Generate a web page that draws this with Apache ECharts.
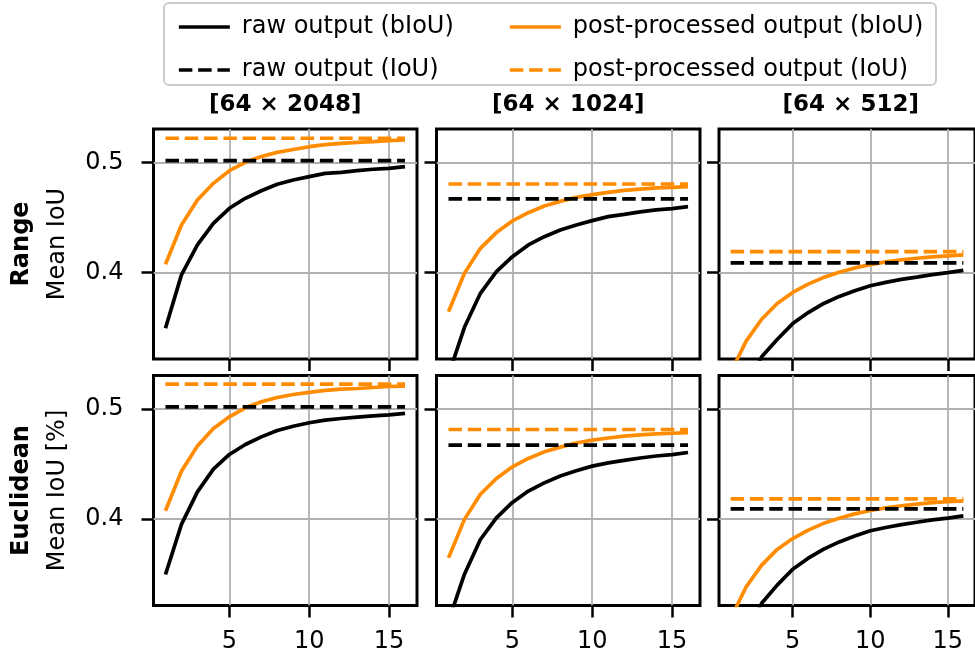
<!DOCTYPE html>
<html>
<head>
<meta charset="utf-8">
<script src="https://cdn.jsdelivr.net/npm/echarts@6/dist/echarts.min.js"></script>
<style>
  html, body { margin: 0; padding: 0; background: #ffffff; }
  #chart { width: 975px; height: 659px; }
</style>
</head>
<body>
<div id="chart"></div>
<script>
// ---- data -------------------------------------------------------------
const steps = [1, 2, 3, 4, 5, 6, 7, 8, 9, 10, 11, 12, 13, 14, 15, 16];
const resolutions = ['[64 × 2048]', '[64 × 1024]', '[64 × 512]'];
const distanceNames = ['Range', 'Euclidean'];
const yAxisTitles = ['Mean IoU', 'Mean IoU [%]'];
const xTickValues = [5, 10, 15];
const yTickValues = [0.4, 0.5];
const seriesNames = [
  'raw output (bIoU)', 'raw output (IoU)',
  'post-processed output (bIoU)', 'post-processed output (IoU)'
];

// Range distance: bIoU curves per resolution
const rangeRaw2048 = [0.3494, 0.3980, 0.4252, 0.4448, 0.4585, 0.4676, 0.4745, 0.4803, 0.4842, 0.4873, 0.4903, 0.4912, 0.4927, 0.4940, 0.4948, 0.4964];
const rangePost2048 = [0.4076, 0.4433, 0.4660, 0.4812, 0.4927, 0.5003, 0.5055, 0.5094, 0.5120, 0.5145, 0.5164, 0.5176, 0.5185, 0.5192, 0.5200, 0.5206];
const rangeRaw1024 = [0.3070, 0.3503, 0.3812, 0.4009, 0.4145, 0.4252, 0.4327, 0.4388, 0.4433, 0.4473, 0.4509, 0.4530, 0.4552, 0.4570, 0.4582, 0.4600];
const rangePost1024 = [0.3645, 0.3994, 0.4221, 0.4364, 0.4470, 0.4545, 0.4606, 0.4648, 0.4685, 0.4709, 0.4730, 0.4748, 0.4760, 0.4770, 0.4776, 0.4782];
const rangeRaw512 = [0.2620, 0.2950, 0.3235, 0.3393, 0.3537, 0.3637, 0.3720, 0.3784, 0.3835, 0.3881, 0.3912, 0.3939, 0.3960, 0.3982, 0.4000, 0.4021];
const rangePost512 = [0.3090, 0.3378, 0.3576, 0.3720, 0.3820, 0.3896, 0.3957, 0.4003, 0.4043, 0.4073, 0.4098, 0.4116, 0.4131, 0.4143, 0.4152, 0.4162];
// Range distance: IoU per resolution
const rangeRawIoU = [0.5018, 0.4670, 0.4088];
const rangePostIoU = [0.5222, 0.4806, 0.4192];

// Euclidean distance: bIoU curves per resolution
const euclRaw2048 = [0.3497, 0.3952, 0.4248, 0.4455, 0.4588, 0.4679, 0.4748, 0.4806, 0.4845, 0.4876, 0.4900, 0.4915, 0.4927, 0.4939, 0.4948, 0.4961];
const euclPost2048 = [0.4076, 0.4436, 0.4664, 0.4824, 0.4930, 0.5012, 0.5067, 0.5106, 0.5133, 0.5152, 0.5170, 0.5182, 0.5188, 0.5197, 0.5206, 0.5209];
const euclRaw1024 = [0.3070, 0.3500, 0.3815, 0.4012, 0.4152, 0.4255, 0.4330, 0.4392, 0.4440, 0.4482, 0.4512, 0.4535, 0.4556, 0.4574, 0.4586, 0.4606];
const euclPost1024 = [0.3648, 0.3998, 0.4226, 0.4370, 0.4476, 0.4552, 0.4612, 0.4655, 0.4692, 0.4718, 0.4738, 0.4755, 0.4766, 0.4775, 0.4781, 0.4787];
const euclRaw512 = [0.2620, 0.2950, 0.3235, 0.3400, 0.3545, 0.3645, 0.3728, 0.3793, 0.3846, 0.3894, 0.3924, 0.3950, 0.3972, 0.3993, 0.4010, 0.4030];
const euclPost512 = [0.3095, 0.3385, 0.3582, 0.3725, 0.3824, 0.3900, 0.3962, 0.4008, 0.4048, 0.4079, 0.4103, 0.4122, 0.4137, 0.4150, 0.4160, 0.4167];
// Euclidean distance: IoU per resolution
const euclRawIoU = [0.5021, 0.4673, 0.4094];
const euclPostIoU = [0.5227, 0.4815, 0.4185];

// ---- layout -------------------------------------------------------------
const FONT = 'DejaVu Sans';
const ORANGE = '#ff8c00';
const colLeft = [153.5, 436.5, 719];
const rowTop = [129, 375.5];
const panelW = 263.5;
const panelH = 230;
const xMin = 0.25, xMax = 16.75;
const yMin = 0.3215, yMax = 0.5306;
const LINE_W = 3.7;
const DASH = [13.5, 5.8];

const panels = [
  [
    { raw: rangeRaw2048, post: rangePost2048 },
    { raw: rangeRaw1024, post: rangePost1024 },
    { raw: rangeRaw512, post: rangePost512 }
  ],
  [
    { raw: euclRaw2048, post: euclPost2048 },
    { raw: euclRaw1024, post: euclPost1024 },
    { raw: euclRaw512, post: euclPost512 }
  ]
];
const rawIoU = [rangeRawIoU, euclRawIoU];
const postIoU = [rangePostIoU, euclPostIoU];

const pairs = (ys) => steps.map((s, i) => [s, ys[i]]);
const flat = (v) => [[steps[0], v], [steps[steps.length - 1], v]];

const grids = [], xAxes = [], yAxes = [], series = [];
const tickStyle = { color: '#000', width: 2.5 };
const gridLineStyle = { color: '#b0b0b0', width: 1.8 };

for (let r = 0; r < 2; r++) {
  for (let c = 0; c < 3; c++) {
    const idx = r * 3 + c;
    grids.push({
      left: colLeft[c], top: rowTop[r], width: panelW, height: panelH,
      show: true, borderColor: '#000', borderWidth: 3, backgroundColor: 'transparent'
    });
    xAxes.push({
      gridIndex: idx, type: 'value', min: xMin, max: xMax,
      axisLine: { show: false },
      axisTick: { show: true, customValues: xTickValues, length: 12, lineStyle: tickStyle },
      axisLabel: {
        show: r === 1, customValues: xTickValues, margin: 24,
        fontSize: 24, color: '#000', fontFamily: FONT
      },
      splitLine: { show: true, lineStyle: gridLineStyle }
    });
    const yAxis = {
      gridIndex: idx, type: 'value', min: yMin, max: yMax,
      axisLine: { show: false },
      axisTick: { show: true, customValues: yTickValues, length: 12, lineStyle: tickStyle },
      axisLabel: {
        show: c === 0, customValues: yTickValues, margin: 30,
        fontSize: 24, color: '#000', fontFamily: FONT,
        formatter: (v) => v.toFixed(1)
      },
      splitLine: { show: true, lineStyle: gridLineStyle }
    };
    if (c === 0) {
      yAxis.name = '{b|' + distanceNames[r] + '}\n{n|' + yAxisTitles[r] + '}';
      yAxis.nameLocation = 'middle';
      yAxis.nameRotate = 90;
      yAxis.nameGap = 78;
      yAxis.nameTextStyle = {
        color: '#000', fontFamily: FONT,
        rich: {
          b: { fontSize: 24, fontWeight: 'bold', fontFamily: FONT, color: '#000', lineHeight: 36 },
          n: { fontSize: 24, fontFamily: FONT, color: '#000', lineHeight: 36 }
        }
      };
    }
    yAxes.push(yAxis);

    const p = panels[r][c];
    const common = { type: 'line', xAxisIndex: idx, yAxisIndex: idx, symbol: 'none', animation: false, silent: true };
    series.push(Object.assign({}, common, {
      name: seriesNames[2], data: pairs(p.post), z: 2,
      lineStyle: { color: ORANGE, width: LINE_W }, itemStyle: { color: ORANGE }
    }));
    series.push(Object.assign({}, common, {
      name: seriesNames[3], data: flat(postIoU[r][c]), z: 2,
      lineStyle: { color: ORANGE, width: LINE_W, type: DASH }, itemStyle: { color: ORANGE }
    }));
    series.push(Object.assign({}, common, {
      name: seriesNames[0], data: pairs(p.raw), z: 3,
      lineStyle: { color: '#000', width: LINE_W }, itemStyle: { color: '#000' }
    }));
    series.push(Object.assign({}, common, {
      name: seriesNames[1], data: flat(rawIoU[r][c]), z: 3,
      lineStyle: { color: '#000', width: LINE_W, type: DASH }, itemStyle: { color: '#000' }
    }));
  }
}

const legendBase = {
  orient: 'vertical', top: 8, itemWidth: 51, itemHeight: 14, itemGap: 15,
  selectedMode: false,
  textStyle: { fontSize: 24, fontFamily: FONT, color: '#000', lineHeight: 28, padding: [0, 0, 0, 7] },
  lineStyle: { width: LINE_W },
  itemStyle: { opacity: 0 },
  z: 5
};

const titleTexts = resolutions.map((t, c) => ({
  type: 'text',
  x: colLeft[c] + panelW / 2, y: 105,
  style: {
    text: t, fill: '#000', font: 'bold 23px "' + FONT + '"',
    textAlign: 'center', textVerticalAlign: 'middle'
  }
}));

const option = {
  animation: false,
  backgroundColor: '#ffffff',
  grid: grids,
  xAxis: xAxes,
  yAxis: yAxes,
  series: series,
  legend: [
    Object.assign({}, legendBase, { left: 172, data: [seriesNames[0], seriesNames[1]] }),
    Object.assign({}, legendBase, { left: 503, data: [seriesNames[2], seriesNames[3]] })
  ],
  graphic: [
    {
      type: 'rect', left: 163, top: 2, z: 1,
      shape: { width: 772, height: 82, r: 5 },
      style: { fill: 'rgba(255,255,255,0.8)', stroke: '#cccccc', lineWidth: 2 }
    }
  ].concat(titleTexts)
};

const chart = echarts.init(document.getElementById('chart'), null, { renderer: 'canvas' });
chart.setOption(option);
</script>
</body>
</html>
